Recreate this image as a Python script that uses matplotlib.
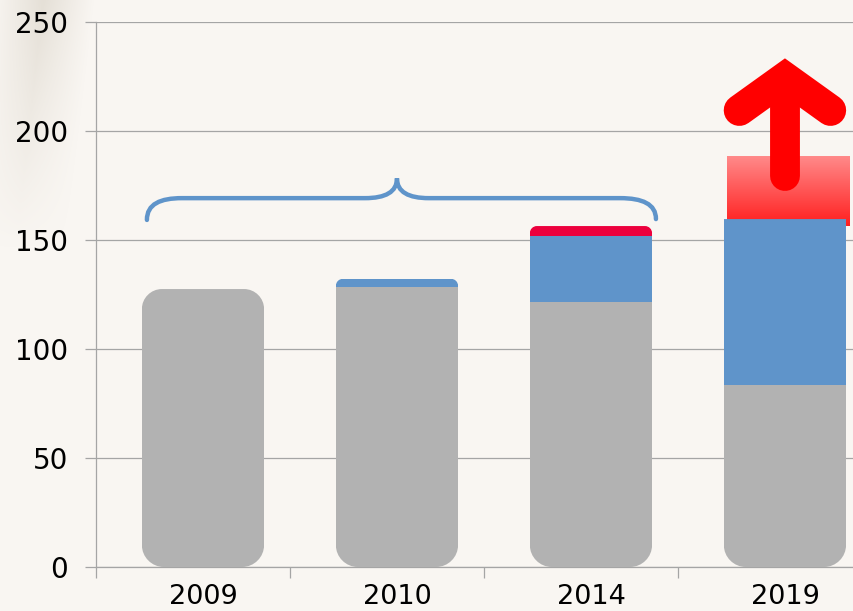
import matplotlib
matplotlib.use("Agg")
import matplotlib.pyplot as plt
from matplotlib.path import Path
from matplotlib.patches import PathPatch
import numpy as np

# 数据
years = ["2009", "2010", "2014", "2019"]
gray_vals = [127.5, 128.4, 121.6, 83.5]
blue_vals = [0, 3.8, 30.2, 76.1]
red_vals = [0, 0, 4.6, 28.9]

BG = "#F9F6F2"
GRAY = "#B2B2B2"
BLUE = "#5F94CA"
CRIMSON = "#EC003D"
LINE = "#A5A5A5"

bar_width = 0.63
positions = np.arange(len(years))


def rounded_path(x0, x1, y0, y1, rxb, ryb, rxt, ryt):
    # 上下圆角半径不同的矩形路径
    k = 0.55
    verts = [
        (x0 + rxb, y0), (x1 - rxb, y0),
        (x1 - rxb + k * rxb, y0), (x1, y0 + ryb - k * ryb), (x1, y0 + ryb),
        (x1, y1 - ryt),
        (x1, y1 - ryt + k * ryt), (x1 - rxt + k * rxt, y1), (x1 - rxt, y1),
        (x0 + rxt, y1),
        (x0 + rxt - k * rxt, y1), (x0, y1 - ryt + k * ryt), (x0, y1 - ryt),
        (x0, y0 + ryb),
        (x0, y0 + ryb - k * ryb), (x0 + rxb - k * rxb, y0), (x0 + rxb, y0),
        (x0 + rxb, y0),
    ]
    codes = [Path.MOVETO, Path.LINETO] + [Path.CURVE4] * 3 + [Path.LINETO] + \
        [Path.CURVE4] * 3 + [Path.LINETO] + [Path.CURVE4] * 3 + [Path.LINETO] + \
        [Path.CURVE4] * 3 + [Path.CLOSEPOLY]
    return Path(verts, codes)


fig = plt.figure(figsize=(8.54, 6.11), dpi=100, facecolor=BG)

# 左上角的背景照片残影（渐变）
deco = fig.add_axes([0, 0.55, 0.12, 0.45])
deco.set_axis_off()
gx, gy = np.meshgrid(np.linspace(0, 1, 100), np.linspace(0, 1, 200))
streak = np.clip(1.0 - np.abs(gx - (0.12 + 0.3 * (1 - gy))) / 0.5, 0, 1)
alpha = streak * np.clip(1.0 - gy * 1.1, 0, 1) * 0.45
img = np.zeros((200, 100, 4))
img[..., 0] = 0.80
img[..., 1] = 0.77
img[..., 2] = 0.71
img[..., 3] = alpha
deco.imshow(img, aspect="auto", extent=[0, 1, 1, 0])
deco.set_xlim(0, 1)
deco.set_ylim(1, 0)

ax = fig.add_axes([96 / 854, 44 / 611, 1 - 96 / 854, 545 / 611])
ax.set_facecolor("none")
ax.set_xlim(-0.5515, 3.356)
ax.set_ylim(0, 250)

# 像素与数据单位的比例，用于圆角
px_x = 194.0
px_y = 545 / 250.0

for i, x in enumerate(positions):
    x0, x1 = x - bar_width / 2, x + bar_width / 2
    g, b, r = gray_vals[i], blue_vals[i], red_vals[i]
    top = g + b + r
    if i == 0:
        rt = 20
    elif i == 3:
        rt = 0
        top = g + b
    else:
        rt = 7
    rb = 22
    clip = rounded_path(x0, x1, 0, top, rb / px_x, rb / px_y, rt / px_x, rt / px_y)

    bars = [ax.bar(x, g, bar_width, color=GRAY, zorder=3)[0]]
    if b > 0:
        bars.append(ax.bar(x, b, bar_width, bottom=g, color=BLUE, zorder=4)[0])
    if r > 0 and i != 3:
        bars.append(ax.bar(x, r, bar_width, bottom=g + b, color=CRIMSON, zorder=4)[0])
    for p in bars:
        p.set_linewidth(0)
        p.set_clip_path(clip, ax.transData)

    if i == 3:
        # 2019 的红色渐变块
        rx0 = x0 + 0.015
        rx1 = x1 + 0.015
        ry0 = g + b - 3
        ry1 = g + b + r
        grad = np.linspace(0, 1, 100).reshape(-1, 1)
        cols = np.zeros((100, 1, 3))
        cols[..., 0] = 1.0
        cols[..., 1] = 0.12 + 0.42 * grad
        cols[..., 2] = 0.12 + 0.42 * grad
        ax.imshow(cols, extent=[rx0, rx1, ry0, ry1], origin="lower",
                  aspect="auto", zorder=2, interpolation="bilinear")

        # 红色向上箭头
        ax.plot([x, x], [top + r - 9, top + r + 36], color="red", lw=21.5,
                solid_capstyle="round", zorder=6)
        ax.plot([x - 0.235, x, x + 0.235], [top + r + 21, top + r + 36, top + r + 21],
                color="red", lw=22.5, solid_capstyle="round",
                solid_joinstyle="miter", zorder=6)

ax.set_xlim(-0.5515, 3.356)
ax.set_ylim(0, 250)

# 大括号
brace = Path(
    [(-0.289, 159.2), (-0.289, 166.5), (-0.22, 169.2), (-0.108, 169.2),
     (0.835, 169.2),
     (0.94, 169.2), (1.0, 172.0), (1.0, 178.3),
     (1.0, 172.0), (1.06, 169.2), (1.165, 169.2),
     (2.15, 169.2),
     (2.265, 169.2), (2.335, 166.5), (2.335, 159.6)],
    [Path.MOVETO, Path.CURVE4, Path.CURVE4, Path.CURVE4, Path.LINETO,
     Path.CURVE4, Path.CURVE4, Path.CURVE4,
     Path.CURVE4, Path.CURVE4, Path.CURVE4, Path.LINETO,
     Path.CURVE4, Path.CURVE4, Path.CURVE4],
)
ax.add_patch(PathPatch(brace, fill=False, edgecolor=BLUE, lw=3.2,
                       capstyle="round", zorder=5))

# 坐标轴
ax.set_yticks([0, 50, 100, 150, 200, 250])
ax.yaxis.grid(True, color=LINE, lw=0.9, zorder=0)
ax.set_axisbelow(True)
ax.tick_params(axis="y", length=8, width=0.9, color=LINE, pad=12,
               labelsize=20, labelcolor="black")
ax.set_xticks(positions)
ax.set_xticklabels(years)
ax.set_xticks([-0.5515, 0.45, 1.45, 2.45], minor=True)
ax.tick_params(axis="x", which="major", length=0, pad=12, labelsize=19.5)
ax.tick_params(axis="x", which="minor", length=8, width=0.9, color=LINE)
for s in ["top", "right"]:
    ax.spines[s].set_visible(False)
for s in ["left", "bottom"]:
    ax.spines[s].set_color(LINE)
    ax.spines[s].set_linewidth(0.9)

fig.savefig("out.png", dpi=100, facecolor=BG)
